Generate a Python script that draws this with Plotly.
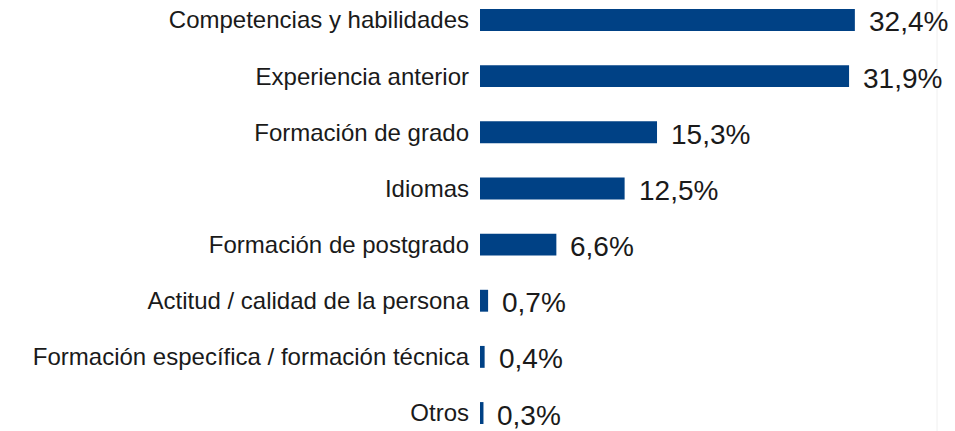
import plotly.graph_objects as go

categories = [
    "Competencias y habilidades",
    "Experiencia anterior",
    "Formación de grado",
    "Idiomas",
    "Formación de postgrado",
    "Actitud / calidad de la persona",
    "Formación específica / formación técnica",
    "Otros",
]
values = [32.4, 31.9, 15.3, 12.5, 6.6, 0.7, 0.4, 0.3]
value_labels = ["32,4%", "31,9%", "15,3%", "12,5%", "6,6%", "0,7%", "0,4%", "0,3%"]

BAR_COLOR = "#004185"
FONT = "Liberation Sans, Arial, sans-serif"

fig = go.Figure(
    go.Bar(
        x=values,
        y=categories,
        orientation="h",
        marker=dict(color=BAR_COLOR, line=dict(width=0)),
        width=0.39,
        hoverinfo="skip",
    )
)

for c, v, t in zip(categories, values, value_labels):
    fig.add_annotation(
        x=v, y=c, text=t, showarrow=False, xanchor="left", yanchor="middle",
        xshift=12, yshift=-2, font=dict(size=28, color="#1a1a1a", family=FONT),
    )

fig.add_shape(type="line", xref="paper", yref="paper", x0=1, x1=1, y0=0, y1=1,
              line=dict(color="#f0f0f0", width=1))

fig.update_layout(
    width=955,
    height=431,
    margin=dict(l=480, r=18, t=0, b=0),
    paper_bgcolor="white",
    plot_bgcolor="white",
    showlegend=False,
    font=dict(family=FONT, color="#1a1a1a"),
    xaxis=dict(range=[0, 39.5], showgrid=False, zeroline=False, showticklabels=False,
               showline=False, fixedrange=True),
    yaxis=dict(range=[7.32, -0.356], showgrid=False, zeroline=False, showline=False,
               tickfont=dict(size=24, color="#1a1a1a", family=FONT),
               ticklabelstandoff=10, fixedrange=True),
)

fig.write_html(
    "out.html",
    config={"displayModeBar": False},
    post_script="document.body.style.margin='0';document.body.style.overflow='hidden';",
)
